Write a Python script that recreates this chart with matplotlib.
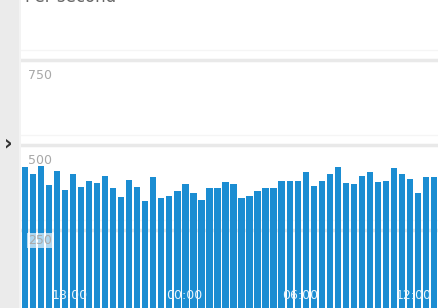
"""Per-second bar chart, cropped dashboard panel."""

import matplotlib
matplotlib.use('Agg')
import matplotlib.pyplot as plt
from matplotlib.patches import Rectangle

# Values, one per bar
values = [436, 415, 438, 382, 424, 368, 415, 375, 394, 387, 409, 374, 348,
          397, 377, 336, 407, 343, 350, 366, 384, 360, 338, 373, 373, 392,
          385, 343, 351, 365, 374, 374, 395, 395, 395, 419, 379, 394, 414,
          436, 389, 384, 409, 419, 392, 394, 431, 414, 399, 360, 406, 406]
y_ticks = [250, 500, 750]
x_label_pos = [5.6, 19.9, 34.3, 48.5]
x_labels = ['18:00', '00:00', '06:00', '12:00']

W, H = 438, 308
fig = plt.figure(figsize=(W / 100, H / 100), dpi=100)
fig.patch.set_facecolor('white')

# grey side strip with the chevron
fig.patches.append(Rectangle((0, 0), 19 / W, 1, transform=fig.transFigure,
                             facecolor='#ebebeb', edgecolor='none', zorder=0))
fig.patches.append(Rectangle((19 / W, 0), 2 / W, 1, transform=fig.transFigure,
                             facecolor='#f3f3f3', edgecolor='none', zorder=0))
fig.text(8 / W, 1 - 143 / H, '›', fontsize=15, fontweight='bold',
         color='#333333', ha='center', va='center')

ax = fig.add_axes([21 / W, 0, 1 - 21 / W, 1])
ax.set_facecolor('white')

x = list(range(len(values)))
ax.bar(x, values, width=0.78, color='#1b8dd2', linewidth=0, zorder=2)

ax.set_xlim(-0.5, len(values) - 0.5)
ax.set_ylim(20.6, 926)

for v in y_ticks:
    ax.axhline(v, color='#e9e9e9', linewidth=2.5, zorder=1)
    ax.axhline(v + 29, color='#f5f5f5', linewidth=1, zorder=1)
    if v == 250:
        ax.text(0.4, v - 31, str(v), fontsize=9, color='#aaaaaa',
                ha='left', va='center', zorder=3,
                bbox=dict(facecolor='white', alpha=0.65, edgecolor='none',
                          pad=1))
    else:
        ax.text(0.4, v - 46, str(v), fontsize=9, color='#a8a8a8',
                ha='left', va='center', zorder=3)

for pos, lab in zip(x_label_pos, x_labels):
    ax.text(pos, 0.039, lab, transform=ax.get_xaxis_transform(),
            fontsize=9, color='#e8f4fc', ha='center', va='center', zorder=3)

for s in ax.spines.values():
    s.set_visible(False)
ax.set_xticks([])
ax.set_yticks([])

# title cut off by the top edge, as in the screenshot
fig.text(25 / W, 1 - 2 / H, 'Per second', fontsize=12, color='#666666',
         ha='left', va='baseline')

fig.savefig('out.png', dpi=100)
plt.close(fig)
